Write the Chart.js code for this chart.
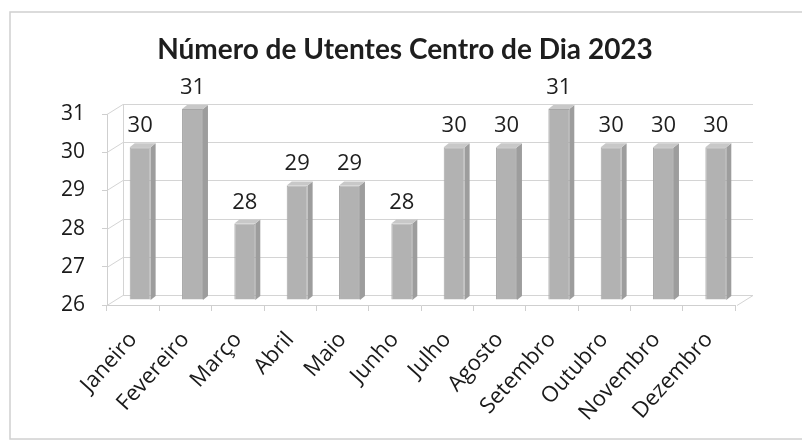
<!DOCTYPE html>
<html>
<head>
<meta charset="utf-8">
<script src="https://cdn.jsdelivr.net/npm/chart.js@4.4.0/dist/chart.umd.min.js"></script>
<style>
  html, body { margin: 0; padding: 0; background: #fff; }
  #wrap { width: 802px; height: 443px; }
</style>
</head>
<body>
<div id="wrap"><canvas id="chart" width="802" height="443"></canvas></div>
<script>
const months = ['Janeiro', 'Fevereiro', 'Março', 'Abril', 'Maio', 'Junho',
  'Julho', 'Agosto', 'Setembro', 'Outubro', 'Novembro', 'Dezembro'];
const utentes = [30, 31, 28, 29, 29, 28, 30, 30, 31, 30, 30, 30];
const yMin = 26;
const yMax = 31;
const yTicks = [26, 27, 28, 29, 30, 31];
const chartTitle = 'Número de Utentes Centro de Dia 2023';

const wallDx = 16, wallDy = 10; // back wall offset
const barDx = 7, barDy = -5;    // bars sit a bit inside the floor

// outer frame, white background and title
const framePlugin = {
  id: 'frame',
  beforeDraw(chart) {
    const ctx = chart.ctx;
    ctx.save();
    ctx.fillStyle = '#fff';
    ctx.fillRect(0, 0, chart.width, chart.height);
    ctx.strokeStyle = '#d0d0d0';
    ctx.lineWidth = 1.5;
    ctx.strokeRect(10, 12, chart.width, chart.height - 16);
    ctx.fillStyle = '#1e1e1e';
    ctx.font = 'bold 28px Lato';
    ctx.textAlign = 'center';
    ctx.textBaseline = 'middle';
    ctx.fillText(chartTitle, 405, 50);
    ctx.restore();
  }
};

// back wall grid, left wall and floor edge, drawn from the y scale
const wallsPlugin = {
  id: 'walls',
  beforeDatasetsDraw(chart) {
    const ctx = chart.ctx;
    const y = chart.scales.y;
    const a = chart.chartArea;
    ctx.save();
    ctx.lineWidth = 1;
    ctx.strokeStyle = '#d4d4d4';
    yTicks.forEach(v => {
      const py = Math.round(y.getPixelForValue(v)) + 0.5;
      ctx.beginPath();
      ctx.moveTo(a.left, py);
      ctx.lineTo(a.left + wallDx, py - wallDy);
      ctx.lineTo(a.right + wallDx + 2, py - wallDy);
      ctx.stroke();
    });
    const pb = Math.round(y.getPixelForValue(yMin)) + 0.5;
    const pt = Math.round(y.getPixelForValue(yMax)) + 0.5;
    ctx.beginPath();
    ctx.moveTo(a.right + 2, pb);
    ctx.lineTo(a.right + wallDx + 2, pb - wallDy);
    ctx.moveTo(a.left + wallDx + 0.5, pt - wallDy);
    ctx.lineTo(a.left + wallDx + 0.5, pb - wallDy);
    ctx.stroke();
    ctx.restore();

    ctx.save();
    ctx.translate(barDx, barDy);
  },
  afterDatasetsDraw(chart) {
    const ctx = chart.ctx;
    const meta = chart.getDatasetMeta(0);
    const b = chart.scales.y.getPixelForValue(yMin);
    const dx = 5, dy = 4;
    meta.data.forEach((bar, i) => {
      const w = bar.width / 2;
      const x = bar.x, t = bar.y;
      ctx.fillStyle = '#9d9d9d';
      ctx.beginPath();
      ctx.moveTo(x + w, t);
      ctx.lineTo(x + w + dx, t - dy);
      ctx.lineTo(x + w + dx, b - dy);
      ctx.lineTo(x + w, b);
      ctx.closePath();
      ctx.fill();
      ctx.fillStyle = '#c8c8c8';
      ctx.beginPath();
      ctx.moveTo(x - w, t);
      ctx.lineTo(x - w + dx, t - dy);
      ctx.lineTo(x + w + dx, t - dy);
      ctx.lineTo(x + w, t);
      ctx.closePath();
      ctx.fill();

      ctx.fillStyle = '#1e1e1e';
      ctx.font = '22px "Open Sans"';
      ctx.textAlign = 'center';
      ctx.textBaseline = 'alphabetic';
      ctx.fillText(utentes[i], x, t - 15);
    });
    ctx.restore();
  }
};

new Chart(document.getElementById('chart'), {
  type: 'bar',
  data: {
    labels: months,
    datasets: [{
      data: utentes,
      backgroundColor: '#b2b2b2',
      borderColor: '#a6a6a6',
      borderWidth: 1,
      barPercentage: 0.4,
      categoryPercentage: 1,
      base: yMin
    }]
  },
  options: {
    responsive: false,
    animation: false,
    layout: { padding: { left: 0, right: 67, top: 114, bottom: 0 } },
    plugins: {
      legend: { display: false },
      tooltip: { enabled: false },
      title: { display: false }
    },
    scales: {
      x: {
        afterFit(scale) { scale.height = 138; },
        grid: { display: true, drawOnChartArea: false, tickLength: 6, color: '#cfcfcf', offset: true },
        border: { color: '#cfcfcf' },
        ticks: {
          color: '#1a1a1a',
          font: { family: 'Open Sans', size: 22 },
          minRotation: 48,
          maxRotation: 48,
          padding: 16
        }
      },
      y: {
        min: yMin,
        max: yMax,
        afterFit(scale) { scale.width = 107; },
        grid: { display: true, drawOnChartArea: false, tickLength: 5, color: '#cfcfcf' },
        border: { display: true, color: '#cfcfcf' },
        ticks: {
          stepSize: 1,
          color: '#1a1a1a',
          font: { family: 'Open Sans', size: 21 },
          padding: 17
        }
      }
    }
  },
  plugins: [framePlugin, wallsPlugin]
});
</script>
</body>
</html>
